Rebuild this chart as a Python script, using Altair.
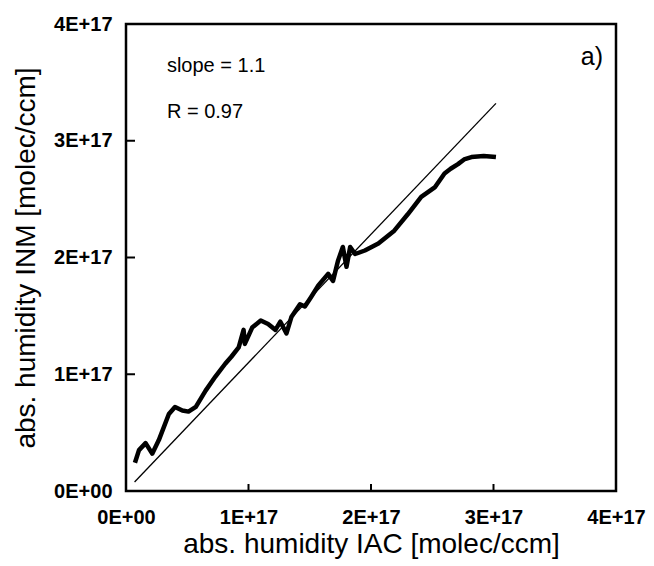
import altair as alt
import pandas as pd

# values in units of 1E+17 molec/ccm
x_iac = [0.073, 0.106, 0.16, 0.214, 0.268, 0.35, 0.40, 0.46, 0.51, 0.57, 0.65, 0.73, 0.81, 0.86,
         0.92, 0.96, 0.97, 1.03, 1.10, 1.16, 1.22, 1.26, 1.31, 1.35, 1.42, 1.46, 1.51, 1.57, 1.65,
         1.69, 1.73, 1.77, 1.80, 1.83, 1.87, 1.95, 2.06, 2.19, 2.30, 2.41, 2.52, 2.60, 2.65, 2.71,
         2.76, 2.82, 2.92, 3.02]
y_inm = [0.242, 0.35, 0.41, 0.32, 0.436, 0.66, 0.72, 0.69, 0.68, 0.72, 0.86, 0.98, 1.09, 1.15,
         1.23, 1.38, 1.26, 1.40, 1.46, 1.43, 1.38, 1.45, 1.35, 1.49, 1.60, 1.58, 1.66, 1.76, 1.86,
         1.80, 1.97, 2.09, 1.92, 2.09, 2.03, 2.06, 2.12, 2.23, 2.37, 2.52, 2.60, 2.72, 2.76, 2.80,
         2.84, 2.86, 2.87, 2.86]
fit_x = [0.07, 3.02]
fit_y = [0.077, 3.32]
tick_vals = [0, 1, 2, 3, 4]
inner_ticks = [1, 2, 3]
notes = ["slope = 1.1", "R = 0.97"]
notes_x = [0.334, 0.334]
notes_y = [3.59, 3.195]
panel_label = "a)"

W, H = 490, 467
FONT = "Liberation Sans"

df = pd.DataFrame({"x": x_iac, "y": y_inm, "i": range(len(x_iac))})
fit = pd.DataFrame({"x": fit_x, "y": fit_y})
ticks = pd.DataFrame({"t": inner_ticks})
note_df = pd.DataFrame({"x": notes_x, "y": notes_y, "text": notes})
lab_df = pd.DataFrame({"x": [3.894], "y": [3.65], "text": [panel_label]})

label_expr = "datum.value == 0 ? '0E+00' : datum.value + 'E+17'"
xscale = alt.Scale(domain=[0, 4], nice=False, zero=True)
yscale = alt.Scale(domain=[0, 4], nice=False, zero=True)

xenc = alt.X("x:Q", scale=xscale,
             axis=alt.Axis(values=tick_vals, labelExpr=label_expr, labelFlush=False,
                           title="abs. humidity IAC [molec/ccm]"))
yenc = alt.Y("y:Q", scale=yscale,
             axis=alt.Axis(values=tick_vals, labelExpr=label_expr, labelFlush=False,
                           title="abs. humidity INM [molec/ccm]"))

line = alt.Chart(df).mark_line(color="black", strokeWidth=4.5, strokeJoin="round").encode(
    x=xenc, y=yenc, order="i:Q")
fitline = alt.Chart(fit).mark_line(color="black", strokeWidth=1.3).encode(
    x=alt.X("x:Q", scale=xscale), y=alt.Y("y:Q", scale=yscale))

xt = alt.Chart(ticks).mark_rule(color="black", strokeWidth=2).encode(
    x=alt.X("t:Q", scale=xscale), y=alt.value(H), y2=alt.value(H - 7))
yt = alt.Chart(ticks).mark_rule(color="black", strokeWidth=2).encode(
    y=alt.Y("t:Q", scale=yscale), x=alt.value(0), x2=alt.value(9))

note_txt = alt.Chart(note_df).mark_text(align="left", baseline="alphabetic", fontSize=20,
                                        font=FONT, color="black").encode(
    x=alt.X("x:Q", scale=xscale), y=alt.Y("y:Q", scale=yscale), text="text:N")
lab_txt = alt.Chart(lab_df).mark_text(align="right", baseline="alphabetic", fontSize=25,
                                      font=FONT, color="black").encode(
    x=alt.X("x:Q", scale=xscale), y=alt.Y("y:Q", scale=yscale), text="text:N")

chart = alt.layer(fitline, line, xt, yt, note_txt, lab_txt).properties(
    width=W, height=H,
    autosize=alt.AutoSizeParams(type="none"),
    padding={"left": 118, "top": 16, "right": 30, "bottom": 80},
).configure_view(stroke="black", strokeWidth=2.5).configure_axis(
    domain=False, grid=False, ticks=False,
    labelFont=FONT, labelFontSize=20, labelFontWeight="bold", labelColor="black", labelPadding=14,
    titleFont=FONT, titleFontSize=28, titleFontWeight="normal", titleColor="black",
).configure_axisX(labelPadding=16, titlePadding=3).configure_axisY(titlePadding=13)

chart.save("out.html", embed_options={"renderer": "svg", "actions": False})
